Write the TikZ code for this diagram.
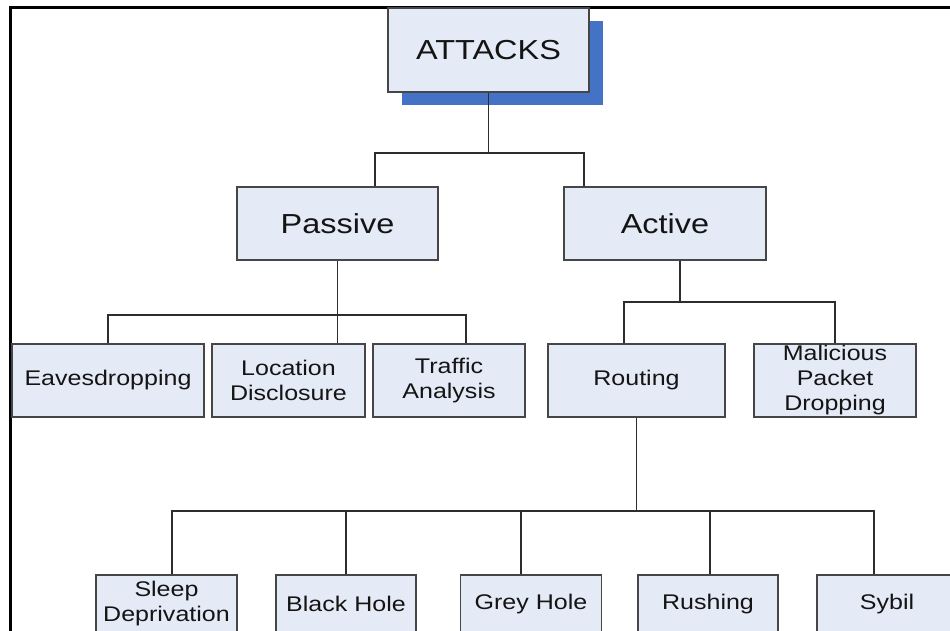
\documentclass[tikz,border=0pt]{standalone}
\usepackage{fontspec}
\usetikzlibrary{shadows}
\newfontfamily\boxfont[FakeStretch=1.18]{Liberation Sans}
\definecolor{boxfill}{RGB}{228,234,246}
\definecolor{boxline}{RGB}{70,70,70}
\definecolor{connline}{RGB}{45,45,45}
\definecolor{shadowblue}{RGB}{68,114,196}
\definecolor{txt}{RGB}{20,20,20}
\tikzset{
  box/.style={draw=boxline, fill=boxfill, line width=1.1pt, rectangle, inner sep=0pt, text=txt, align=center},
  bigbox/.style={box, font=\boxfont\fontsize{27.5}{31}\selectfont},
  midbox/.style={box, font=\boxfont\fontsize{21.2}{25}\selectfont},
  conn/.style={draw=connline, line width=1.2pt},
  frameline/.style={draw=black, line width=3pt}
}
\begin{document}
\begin{tikzpicture}[x=1pt,y=-1pt]
\clip (0,0) rectangle (950,630);
\fill[white] (0,0) rectangle (950,630);
\draw[frameline] (10,700) -- (10,7) -- (970,7);

% level 0
\node[bigbox, minimum width=201pt, minimum height=84pt,
      drop shadow={shadow xshift=14pt, shadow yshift=-13pt, fill=shadowblue, opacity=1}]
      (attacks) at (488.5,50) {ATTACKS};

% level 1
\node[bigbox, minimum width=201pt, minimum height=73pt] (passive) at (337.5,223.5) {Passive};
\node[bigbox, minimum width=202pt, minimum height=73pt] (active) at (665,223.5) {Active};

% level 2
\node[midbox, minimum width=192pt, minimum height=73pt] (eaves) at (108,380.5) {Eavesdropping};
\node[midbox, minimum width=153pt, minimum height=73pt] (loc) at (288.5,380.5) {Location\\Disclosure};
\node[midbox, minimum width=152pt, minimum height=73pt] (traffic) at (449,380.5) {Traffic\\Analysis};
\node[midbox, minimum width=177pt, minimum height=73pt] (routing) at (636.5,380.5) {Routing};
\node[midbox, minimum width=162pt, minimum height=73pt] (malic) at (835,380.5) {Malicious\\Packet\\Dropping};

% level 3
\node[midbox, minimum width=141pt, minimum height=58pt] (sleep) at (166.5,604) {Sleep\\Deprivation};
\node[midbox, minimum width=140pt, minimum height=58pt] (black) at (346,604) {Black Hole};
\node[midbox, minimum width=141pt, minimum height=58pt] (grey) at (531,604) {Grey Hole};
\node[midbox, minimum width=140pt, minimum height=58pt] (rush) at (708,604) {Rushing};
\node[midbox, minimum width=140pt, minimum height=58pt] (sybil) at (887,604) {Sybil};

% connectors level 0 -> 1
\coordinate (j0) at (488.5,153);
\draw[conn] (attacks.south) -- (j0);
\draw[conn] ([xshift=37.5pt]passive.north) |- (j0) -| ([xshift=-81pt]active.north);

% passive -> children
\coordinate (j1) at (337.5,315);
\draw[conn] (passive.south) -- (j1);
\draw[conn] (eaves.north) |- (j1) -| ([xshift=49pt]loc.north);
\draw[conn] (j1) -| ([xshift=17pt]traffic.north);

% active -> children
\coordinate (j2) at (680,302);
\draw[conn] ([xshift=15pt]active.south) -- (j2);
\draw[conn] ([xshift=-12.5pt]routing.north) |- (j2) -| (malic.north);

% routing -> children
\coordinate (j3) at (636.5,511);
\draw[conn] (routing.south) -- (j3);
\draw[conn] ([xshift=5.5pt]sleep.north) |- (j3) -| ([xshift=-13pt]sybil.north);
\draw[conn] (black.north) -- (black.north |- j3);
\draw[conn] ([xshift=-10pt]grey.north) -- ([xshift=-10pt]grey.north |- j3);
\draw[conn] ([xshift=2pt]rush.north) -- ([xshift=2pt]rush.north |- j3);
\end{tikzpicture}
\end{document}
